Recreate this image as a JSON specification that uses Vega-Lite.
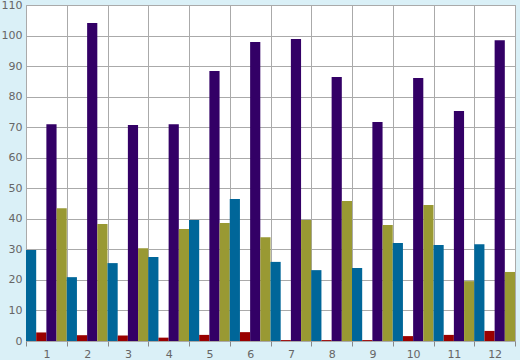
{
  "$schema": "https://vega.github.io/schema/vega-lite/v6.json",
  "autosize": {"type": "none"},
  "padding": {"left": 26, "top": 5, "right": 5, "bottom": 19},
  "width": 489,
  "height": 336,
  "background": "#daf0f7",
  "config": {
    "view": {"fill": "#ffffff", "stroke": "#aaaaaa", "strokeWidth": 1},
    "axis": {"labelFont": "DejaVu Sans", "labelFontSize": 11, "labelColor": "#666666", "gridColor": "#aaaaaa", "gridOpacity": 1, "gridWidth": 1, "domainColor": "#aaaaaa"}
  },
  "data": {"values": [
    {"group": 1, "series": "A", "value": 29.8}, {"group": 1, "series": "B", "value": 2.8}, {"group": 1, "series": "C", "value": 71}, {"group": 1, "series": "D", "value": 43.5},
    {"group": 2, "series": "A", "value": 20.9}, {"group": 2, "series": "B", "value": 1.9}, {"group": 2, "series": "C", "value": 104.1}, {"group": 2, "series": "D", "value": 38.3},
    {"group": 3, "series": "A", "value": 25.5}, {"group": 3, "series": "B", "value": 1.8}, {"group": 3, "series": "C", "value": 70.7}, {"group": 3, "series": "D", "value": 30.4},
    {"group": 4, "series": "A", "value": 27.5}, {"group": 4, "series": "B", "value": 1.1}, {"group": 4, "series": "C", "value": 71}, {"group": 4, "series": "D", "value": 36.7},
    {"group": 5, "series": "A", "value": 39.6}, {"group": 5, "series": "B", "value": 2.0}, {"group": 5, "series": "C", "value": 88.4}, {"group": 5, "series": "D", "value": 38.6},
    {"group": 6, "series": "A", "value": 46.5}, {"group": 6, "series": "B", "value": 2.9}, {"group": 6, "series": "C", "value": 97.9}, {"group": 6, "series": "D", "value": 34.0},
    {"group": 7, "series": "A", "value": 25.9}, {"group": 7, "series": "B", "value": 0.3}, {"group": 7, "series": "C", "value": 98.9}, {"group": 7, "series": "D", "value": 39.6},
    {"group": 8, "series": "A", "value": 23.2}, {"group": 8, "series": "B", "value": 0.3}, {"group": 8, "series": "C", "value": 86.4}, {"group": 8, "series": "D", "value": 45.8},
    {"group": 9, "series": "A", "value": 23.9}, {"group": 9, "series": "B", "value": 0.3}, {"group": 9, "series": "C", "value": 71.7}, {"group": 9, "series": "D", "value": 38.0},
    {"group": 10, "series": "A", "value": 32.1}, {"group": 10, "series": "B", "value": 1.6}, {"group": 10, "series": "C", "value": 86.1}, {"group": 10, "series": "D", "value": 44.5},
    {"group": 11, "series": "A", "value": 31.4}, {"group": 11, "series": "B", "value": 2.0}, {"group": 11, "series": "C", "value": 75.3}, {"group": 11, "series": "D", "value": 19.6},
    {"group": 12, "series": "A", "value": 31.7}, {"group": 12, "series": "B", "value": 3.3}, {"group": 12, "series": "C", "value": 98.5}, {"group": 12, "series": "D", "value": 22.6}
  ]},
  "mark": {"type": "bar"},
  "encoding": {
    "x": {
      "field": "group", "type": "ordinal",
      "scale": {"paddingInner": 0, "paddingOuter": 0},
      "axis": {"title": null, "labelAngle": 0, "tickBand": "extent", "grid": true, "tickColor": "#888888", "tickSize": 5, "labelPadding": 2, "domain": false}
    },
    "xOffset": {"field": "series", "type": "nominal", "scale": {"paddingInner": 0, "paddingOuter": 0}, "sort": ["A", "B", "C", "D"]},
    "y": {
      "field": "value", "type": "quantitative",
      "scale": {"domain": [0, 110], "nice": false},
      "axis": {"title": null, "values": [0, 10, 20, 30, 40, 50, 60, 70, 80, 90, 100, 110], "ticks": false, "labelPadding": 4, "domain": false}
    },
    "color": {
      "field": "series", "type": "nominal", "legend": null,
      "scale": {"domain": ["A", "B", "C", "D"], "range": ["#006699", "#990000", "#330066", "#999933"]}
    }
  }
}
